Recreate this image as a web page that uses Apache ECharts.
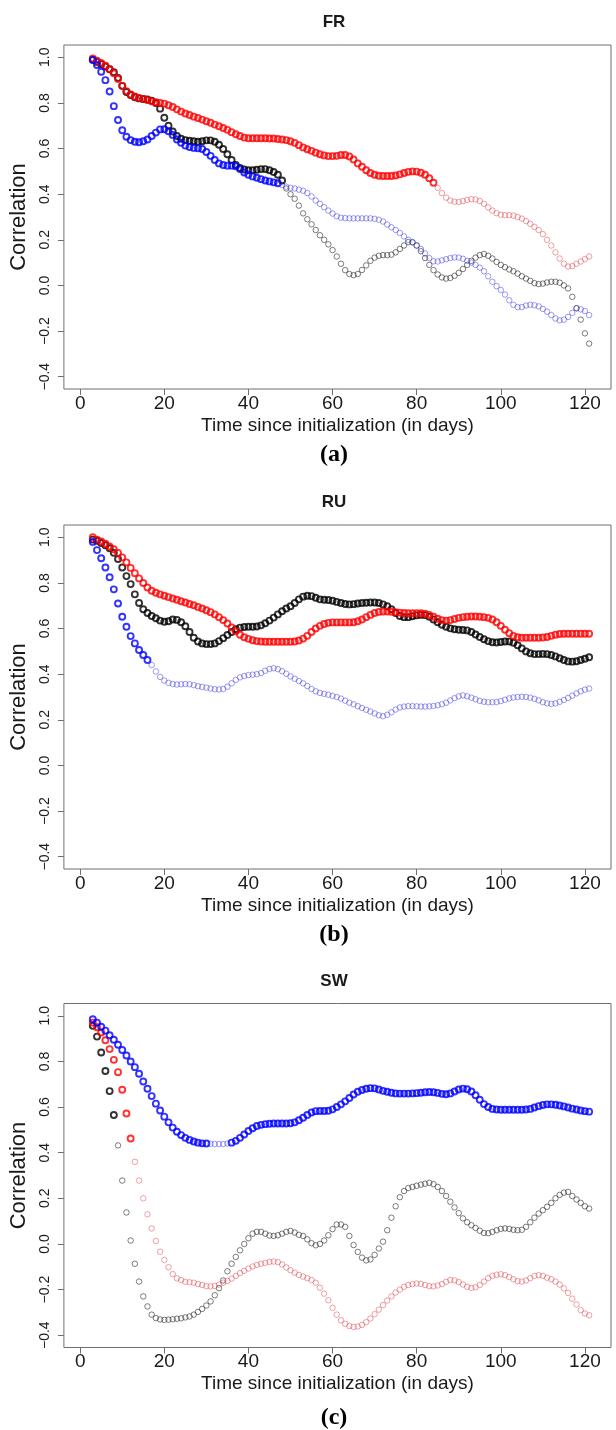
<!DOCTYPE html>
<html>
<head>
<meta charset="utf-8">
<script src="https://cdn.jsdelivr.net/npm/echarts/dist/echarts.min.js"></script>
<style>
html,body{margin:0;padding:0;background:#fff;}
#chart{width:616px;height:1430px;}
</style>
</head>
<body>
<div id="chart"></div>
<script>
// ---------- data ----------
const firstDay = 3; // values below are for days 3..121
const panelNames = ['FR', 'RU', 'SW'];
const captions = ['(a)', '(b)', '(c)'];
const xTickValues = [0, 20, 40, 60, 80, 100, 120];
const yTickValues = [-0.4, -0.2, 0.0, 0.2, 0.4, 0.6, 0.8, 1.0];
const xTitle = 'Time since initialization (in days)';
const yTitle = 'Correlation';

const frRed = [0.995,0.985,0.975,0.963,0.948,0.93,0.905,0.875,0.852,0.837,
 0.828,0.822,0.818,0.813,0.807,0.803,0.8,0.797,0.79,0.782,
 0.772,0.762,0.754,0.747,0.74,0.734,0.727,0.72,0.713,0.705,
 0.698,0.69,0.682,0.672,0.663,0.655,0.648,0.645,0.645,0.645,
 0.645,0.645,0.644,0.644,0.642,0.64,0.637,0.632,0.625,0.615,
 0.605,0.597,0.59,0.582,0.575,0.57,0.567,0.567,0.568,0.572,
 0.572,0.565,0.552,0.535,0.52,0.505,0.493,0.485,0.481,0.48,
 0.48,0.48,0.482,0.487,0.493,0.498,0.5,0.499,0.494,0.485,
 0.47,0.45,0.428,0.405,0.385,0.372,0.367,0.366,0.37,0.375,
 0.378,0.377,0.37,0.358,0.342,0.328,0.317,0.31,0.308,0.308,
 0.306,0.3,0.293,0.282,0.27,0.257,0.243,0.225,0.2,0.175,
 0.145,0.118,0.095,0.083,0.085,0.095,0.105,0.115,0.127];
const frBlack = [0.99,0.98,0.97,0.96,0.948,0.935,0.91,0.875,0.848,0.835,
 0.825,0.82,0.817,0.815,0.81,0.8,0.775,0.735,0.7,0.675,
 0.655,0.643,0.637,0.634,0.632,0.63,0.632,0.636,0.636,0.63,
 0.617,0.598,0.575,0.55,0.528,0.515,0.508,0.505,0.505,0.507,
 0.51,0.51,0.505,0.497,0.485,0.46,0.425,0.4,0.38,0.35,
 0.316,0.29,0.268,0.243,0.22,0.2,0.18,0.155,0.127,0.095,
 0.067,0.05,0.045,0.05,0.068,0.088,0.108,0.122,0.13,0.133,
 0.133,0.135,0.145,0.16,0.175,0.19,0.19,0.175,0.15,0.12,
 0.09,0.067,0.048,0.035,0.03,0.033,0.042,0.055,0.072,0.09,
 0.108,0.122,0.133,0.138,0.13,0.118,0.103,0.09,0.08,0.07,
 0.062,0.052,0.04,0.03,0.02,0.01,0.006,0.008,0.013,0.016,
 0.016,0.012,0.0,-0.013,-0.05,-0.1,-0.15,-0.21,-0.255];
const frBlue = [0.988,0.966,0.937,0.9,0.85,0.786,0.725,0.68,0.652,0.637,
 0.63,0.628,0.632,0.64,0.655,0.67,0.684,0.685,0.676,0.66,
 0.64,0.625,0.613,0.607,0.603,0.601,0.598,0.585,0.568,0.55,
 0.535,0.528,0.525,0.525,0.522,0.51,0.495,0.485,0.478,0.472,
 0.466,0.46,0.456,0.452,0.448,0.44,0.433,0.428,0.425,0.42,
 0.415,0.405,0.39,0.372,0.358,0.343,0.328,0.315,0.303,0.297,
 0.295,0.294,0.294,0.294,0.294,0.294,0.294,0.292,0.288,0.28,
 0.267,0.255,0.243,0.23,0.215,0.2,0.188,0.175,0.16,0.14,
 0.12,0.106,0.105,0.11,0.115,0.12,0.123,0.122,0.117,0.108,
 0.1,0.09,0.078,0.062,0.04,0.016,-0.003,-0.02,-0.04,-0.065,
 -0.085,-0.095,-0.095,-0.088,-0.085,-0.087,-0.092,-0.103,-0.115,-0.13,
 -0.145,-0.153,-0.15,-0.138,-0.12,-0.1,-0.105,-0.112,-0.13];

const ruRed = [1.0,0.99,0.982,0.972,0.96,0.948,0.932,0.912,0.89,0.866,
 0.843,0.82,0.8,0.78,0.766,0.757,0.75,0.744,0.738,0.732,
 0.726,0.72,0.714,0.708,0.702,0.695,0.688,0.68,0.672,0.662,
 0.65,0.637,0.622,0.605,0.588,0.573,0.562,0.555,0.549,0.545,
 0.543,0.542,0.542,0.542,0.542,0.542,0.542,0.542,0.543,0.548,
 0.556,0.568,0.585,0.6,0.612,0.62,0.625,0.627,0.627,0.627,
 0.627,0.627,0.628,0.632,0.64,0.65,0.66,0.668,0.673,0.675,
 0.675,0.674,0.672,0.67,0.668,0.667,0.667,0.667,0.667,0.665,
 0.66,0.652,0.643,0.637,0.635,0.637,0.642,0.647,0.65,0.652,
 0.653,0.653,0.652,0.65,0.647,0.64,0.628,0.612,0.595,0.58,
 0.568,0.562,0.56,0.56,0.56,0.56,0.56,0.561,0.563,0.568,
 0.573,0.576,0.577,0.577,0.577,0.577,0.577,0.577,0.577];
const ruBlack = [0.99,0.985,0.975,0.965,0.952,0.932,0.905,0.868,0.83,0.795,
 0.75,0.712,0.685,0.668,0.655,0.645,0.635,0.63,0.632,0.64,
 0.638,0.628,0.61,0.585,0.56,0.543,0.535,0.532,0.532,0.535,
 0.545,0.558,0.572,0.585,0.597,0.604,0.607,0.608,0.608,0.609,
 0.614,0.623,0.635,0.648,0.662,0.676,0.688,0.698,0.712,0.728,
 0.74,0.744,0.742,0.735,0.728,0.726,0.725,0.722,0.717,0.712,
 0.708,0.706,0.707,0.71,0.712,0.713,0.714,0.714,0.712,0.706,
 0.698,0.685,0.668,0.655,0.65,0.65,0.654,0.658,0.66,0.659,
 0.652,0.64,0.628,0.617,0.608,0.601,0.597,0.595,0.594,0.592,
 0.585,0.574,0.563,0.553,0.545,0.54,0.539,0.541,0.543,0.543,
 0.538,0.527,0.513,0.5,0.492,0.488,0.488,0.489,0.488,0.484,
 0.478,0.47,0.462,0.456,0.455,0.457,0.462,0.468,0.474];
const ruBlue = [0.98,0.944,0.908,0.868,0.825,0.772,0.71,0.652,0.608,0.567,
 0.535,0.506,0.484,0.462,0.44,0.412,0.388,0.372,0.362,0.357,
 0.355,0.356,0.357,0.356,0.352,0.347,0.344,0.341,0.337,0.334,
 0.333,0.335,0.345,0.36,0.375,0.386,0.392,0.396,0.398,0.4,
 0.405,0.415,0.423,0.426,0.422,0.413,0.402,0.39,0.38,0.37,
 0.36,0.348,0.335,0.325,0.318,0.314,0.31,0.305,0.3,0.293,
 0.284,0.275,0.268,0.26,0.252,0.244,0.236,0.228,0.22,0.216,
 0.222,0.233,0.245,0.254,0.258,0.26,0.26,0.259,0.258,0.258,
 0.259,0.261,0.264,0.268,0.275,0.285,0.295,0.303,0.307,0.303,
 0.297,0.29,0.283,0.279,0.277,0.277,0.278,0.282,0.288,0.294,
 0.298,0.3,0.301,0.3,0.297,0.292,0.285,0.277,0.272,0.27,
 0.272,0.279,0.287,0.296,0.306,0.316,0.325,0.332,0.337];

const swRed = [0.97,0.95,0.927,0.893,0.854,0.807,0.753,0.676,0.572,0.462,
 0.36,0.278,0.2,0.13,0.068,0.013,-0.034,-0.07,-0.102,-0.132,
 -0.151,-0.158,-0.166,-0.168,-0.17,-0.176,-0.18,-0.185,-0.186,-0.184,
 -0.178,-0.17,-0.162,-0.152,-0.14,-0.128,-0.118,-0.108,-0.099,-0.092,
 -0.087,-0.083,-0.079,-0.077,-0.08,-0.09,-0.103,-0.115,-0.126,-0.136,
 -0.143,-0.15,-0.158,-0.17,-0.192,-0.218,-0.247,-0.28,-0.31,-0.335,
 -0.35,-0.36,-0.364,-0.362,-0.355,-0.343,-0.327,-0.308,-0.288,-0.268,
 -0.248,-0.23,-0.213,-0.2,-0.188,-0.18,-0.176,-0.174,-0.175,-0.18,
 -0.185,-0.186,-0.182,-0.176,-0.166,-0.158,-0.16,-0.167,-0.178,-0.188,
 -0.193,-0.19,-0.18,-0.165,-0.15,-0.14,-0.135,-0.133,-0.137,-0.145,
 -0.155,-0.163,-0.165,-0.16,-0.15,-0.14,-0.137,-0.14,-0.148,-0.155,
 -0.165,-0.178,-0.195,-0.215,-0.24,-0.265,-0.29,-0.305,-0.313];
const swBlack = [0.956,0.909,0.839,0.758,0.67,0.565,0.432,0.278,0.138,0.015,
 -0.087,-0.165,-0.23,-0.274,-0.31,-0.325,-0.331,-0.333,-0.332,-0.33,
 -0.328,-0.326,-0.322,-0.318,-0.31,-0.298,-0.285,-0.27,-0.252,-0.225,
 -0.194,-0.16,-0.12,-0.087,-0.057,-0.028,0.0,0.025,0.045,0.053,
 0.053,0.045,0.037,0.035,0.038,0.045,0.053,0.057,0.05,0.04,
 0.035,0.02,0.003,-0.006,0.0,0.015,0.038,0.065,0.085,0.085,
 0.075,0.035,-0.005,-0.035,-0.06,-0.072,-0.068,-0.048,-0.02,0.01,
 0.06,0.115,0.165,0.205,0.232,0.245,0.25,0.255,0.26,0.264,
 0.268,0.262,0.25,0.232,0.21,0.185,0.16,0.135,0.112,0.095,
 0.082,0.07,0.058,0.048,0.047,0.053,0.06,0.066,0.068,0.066,
 0.062,0.06,0.062,0.075,0.095,0.115,0.133,0.148,0.163,0.18,
 0.2,0.215,0.225,0.228,0.21,0.195,0.18,0.165,0.155];
const swBlue = [0.985,0.97,0.952,0.935,0.915,0.895,0.873,0.85,0.826,0.8,
 0.775,0.746,0.712,0.68,0.648,0.615,0.585,0.558,0.533,0.51,
 0.492,0.477,0.465,0.456,0.449,0.444,0.441,0.44,0.439,0.438,
 0.438,0.438,0.44,0.444,0.452,0.465,0.48,0.495,0.507,0.517,
 0.522,0.525,0.527,0.528,0.528,0.528,0.528,0.529,0.533,0.542,
 0.553,0.565,0.576,0.582,0.583,0.583,0.584,0.59,0.6,0.612,
 0.625,0.64,0.655,0.667,0.675,0.68,0.683,0.682,0.677,0.671,
 0.667,0.663,0.66,0.659,0.659,0.659,0.66,0.661,0.663,0.665,
 0.666,0.665,0.662,0.658,0.656,0.66,0.668,0.677,0.681,0.678,
 0.668,0.652,0.632,0.613,0.6,0.592,0.589,0.588,0.588,0.588,
 0.588,0.588,0.588,0.589,0.592,0.598,0.604,0.609,0.612,0.612,
 0.61,0.607,0.603,0.598,0.593,0.589,0.585,0.582,0.58];

// days on which each correlation is significant (drawn with a thick ring)
const frRedSig = [[3, 84]];
const frBlackSig = [[3, 48]];
const frBlueSig = [[3, 47]];
const ruRedSig = [[3, 121]];
const ruBlackSig = [[3, 121]];
const ruBlueSig = [[3, 16]];
const swRedSig = [[3, 12]];
const swBlackSig = [[3, 8]];
const swBlueSig = [[3, 30], [36, 121]];

// ---------- styling ----------
const colors = {
  black: { strong: '#000000', weak: 'rgba(40,40,40,0.75)' },
  red:   { strong: '#ff0000', weak: 'rgba(220,60,70,0.6)' },
  blue:  { strong: '#0000ff', weak: 'rgba(50,50,220,0.6)' }
};
const panels = [
  { black: [frBlack, frBlackSig], red: [frRed, frRedSig], blue: [frBlue, frBlueSig] },
  { black: [ruBlack, ruBlackSig], red: [ruRed, ruRedSig], blue: [ruBlue, ruBlueSig] },
  { black: [swBlack, swBlackSig], red: [swRed, swRedSig], blue: [swBlue, swBlueSig] }
];

const gridTops = [45, 525, 1003.5];
const gridHeight = 344;
const gridLeft = 57, gridRight = 5;
const xMin = -3.87, xMax = 126.2;
const yMin = -0.454, yMax = 1.054;
const titleY = [22.7, 502.7, 981.7];
const captionY = [455, 935, 1418];
const centerX = (gridLeft + 616 - gridRight) / 2;

function points(values, ranges, sig) {
  const out = [];
  values.forEach((v, i) => {
    const d = firstDay + i;
    const s = ranges.some(r => d >= r[0] && d <= r[1]);
    if (s === sig) out.push([d, v]);
  });
  return out;
}

const grids = [], xAxes = [], yAxes = [], series = [], graphics = [];
const txt = '#1a1a1a';
const fontFam = '"Liberation Sans", Arial, Helvetica, sans-serif';

panels.forEach((p, i) => {
  grids.push({ left: gridLeft, right: gridRight, top: gridTops[i], height: gridHeight,
    show: true, borderColor: '#6e6e6e', borderWidth: 1, backgroundColor: 'transparent' });
  xAxes.push({
    gridIndex: i, type: 'value', min: xMin, max: xMax, position: 'bottom',
    axisLine: { show: false, onZero: false },
    splitLine: { show: false },
    axisTick: { show: true, customValues: xTickValues, length: 6, lineStyle: { color: '#6e6e6e' } },
    axisLabel: { customValues: xTickValues, fontSize: 19, color: txt, margin: 5, fontFamily: fontFam },
    name: xTitle, nameLocation: 'middle', nameGap: 27,
    nameTextStyle: { fontSize: 19, color: txt, fontFamily: fontFam }
  });
  yAxes.push({
    gridIndex: i, type: 'value', min: yMin, max: yMax, position: 'left',
    axisLine: { show: false, onZero: false },
    splitLine: { show: false },
    axisTick: { show: true, customValues: yTickValues, length: 6, lineStyle: { color: '#6e6e6e' } },
    axisLabel: { customValues: yTickValues, fontSize: 14, color: txt, margin: 12, rotate: 90,
      fontFamily: fontFam,
      formatter: v => (v < -1e-9 ? '\u2212' : '') + Math.abs(v).toFixed(1) },
    name: yTitle, nameLocation: 'middle', nameGap: 28, nameRotate: 90,
    nameTextStyle: { fontSize: 22, color: txt, fontFamily: fontFam }
  });
  const order = ['black', 'red', 'blue'];
  // non-significant (thin) points first, then significant (thick) ones on top
  order.forEach(c => {
    series.push({
      type: 'scatter', xAxisIndex: i, yAxisIndex: i, silent: true,
      symbol: 'circle', symbolSize: 5.5,
      itemStyle: { color: 'rgba(0,0,0,0)', borderColor: colors[c].weak, borderWidth: 1 },
      data: points(p[c][0], p[c][1], false)
    });
  });
  order.forEach(c => {
    series.push({
      type: 'scatter', xAxisIndex: i, yAxisIndex: i, silent: true,
      symbol: 'circle', symbolSize: 6,
      itemStyle: { color: 'rgba(0,0,0,0)', borderColor: colors[c].strong, borderWidth: 1.9 },
      data: points(p[c][0], p[c][1], true)
    });
  });
  graphics.push({ type: 'text', x: centerX, y: titleY[i], silent: true,
    style: { text: panelNames[i], fill: txt, font: 'bold 17px ' + fontFam, textAlign: 'center', textVerticalAlign: 'middle' } });
  graphics.push({ type: 'text', x: centerX, y: captionY[i], silent: true,
    style: { text: captions[i], fill: '#000', font: 'bold 24px "Liberation Serif", "Times New Roman", serif', textAlign: 'center', textVerticalAlign: 'middle' } });
});

const chart = echarts.init(document.getElementById('chart'), null, { renderer: 'canvas' });
chart.setOption({
  animation: false,
  backgroundColor: '#ffffff',
  grid: grids, xAxis: xAxes, yAxis: yAxes, series: series, graphic: graphics
});
</script>
</body>
</html>
